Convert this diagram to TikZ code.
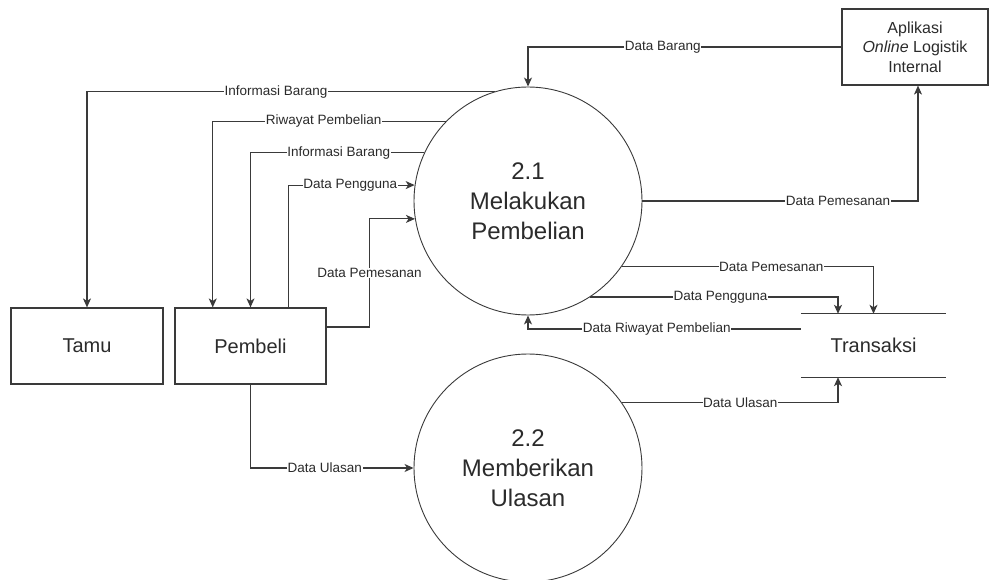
\documentclass[tikz,border=0pt]{standalone}
\usepackage{fontspec}
\setmainfont{Liberation Sans}
\usetikzlibrary{arrows.meta}
\definecolor{ink}{HTML}{2B2B2B}
\definecolor{edge}{HTML}{3A3A3A}
\begin{document}
\begin{tikzpicture}[x=1pt,y=-1pt,
  every node/.style={text=ink},
  process/.style={circle, draw=edge, line width=0.9pt, minimum size=228pt, inner sep=0pt,
    align=center, font=\fontsize{24}{30}\selectfont},
  entity/.style={rectangle, draw=edge, line width=1.2pt, align=center},
  store/.style={rectangle, inner sep=0pt, minimum width=145pt, minimum height=63pt,
    font=\fontsize{20}{24}\selectfont},
  flow/.style={draw=edge, line width=1.1pt, -{Stealth[length=9pt,width=8pt,inset=2.5pt]}},
  lbl/.style={fill=white, inner sep=0.6pt, font=\fontsize{13.5}{16}\selectfont}
]
\useasboundingbox (0,0) rectangle (989,580);

% processes
\node[process] (p1) at (528,201) {2.1\\Melakukan\\Pembelian};
\node[process] (p2) at (528,468) {2.2\\Memberikan\\Ulasan};

% external entities
\node[entity, minimum width=152pt, minimum height=76pt, font=\fontsize{20}{24}\selectfont] (tamu) at (87,346) {Tamu};
\node[entity, minimum width=151pt, minimum height=76pt, font=\fontsize{20}{24}\selectfont] (pemb) at (250.5,346) {Pembeli};
\node[entity, minimum width=146pt, minimum height=76pt, font=\fontsize{16}{19.5}\selectfont] (apl) at (915,47) {Aplikasi\\\textit{Online} Logistik\\Internal};

% data store
\node[store] (trans) at (873.5,345.5) {Transaksi};
\draw[edge, line width=1.2pt] (trans.north west) -- (trans.north east)
  (trans.south west) -- (trans.south east);

% flows around 2.1
\draw[flow] (p1.107.1) -| node[lbl, pos=0.268] {Informasi Barang} (tamu.north);
\draw[flow] (p1.136.1) -| node[lbl, pos=0.262] {Riwayat Pembelian} ([xshift=-37.75pt]pemb.north);
\draw[flow] (p1.155.1) -| node[lbl, pos=0.246] {Informasi Barang} (pemb.north);
\draw[flow] ([xshift=37.75pt]pemb.north) |- node[lbl, pos=0.745] {Data Pengguna} (p1.172.4);
\draw[flow] ([yshift=19pt]pemb.east) -- ++(43,0) |- node[lbl, pos=0.25] {Data Pemesanan} (p1.189.1);
\draw[flow] (apl.west) -| node[lbl, pos=0.285] {Data Barang} (p1.north);
\draw[flow] (p1.east) -| node[lbl, pos=0.355] {Data Pemesanan} ([xshift=3pt]apl.south);
\draw[flow] (p1.-35.4) -| node[lbl, pos=0.297] {Data Pemesanan} (trans.north);
\draw[flow] (p1.-57.4) -| node[lbl, pos=0.263] {Data Pengguna} ([xshift=-35.5pt]trans.north);
\draw[flow] ([yshift=16.5pt]trans.west) -| node[lbl, pos=0.264] {Data Riwayat Pembelian} (p1.south);

% flows around 2.2
\draw[flow] (pemb.south) |- node[lbl, pos=0.728] {Data Ulasan} (p2.west);
\draw[flow] (p2.35.4) -| node[lbl, pos=0.274] {Data Ulasan} ([xshift=-35.5pt]trans.south);
\end{tikzpicture}
\end{document}
